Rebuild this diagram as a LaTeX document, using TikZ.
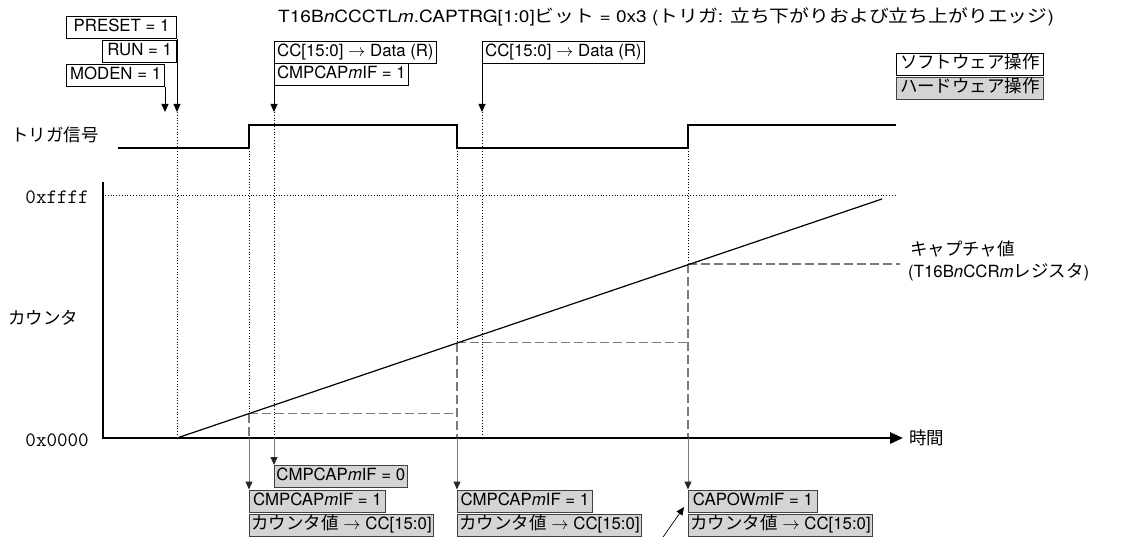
\documentclass[tikz,border=0pt]{standalone}
\usepackage{graphicx}
\usepackage{fontspec}
\setmainfont{TeX Gyre Heros}
\newfontfamily\jpfont{Noto Sans CJK JP}[Scale=1.04]
\newcommand\J[1]{{\jpfont #1}}
\usetikzlibrary{arrows.meta}
\definecolor{hwgray}{HTML}{D4D4D4}
\definecolor{lngray}{HTML}{7A7A7A}
\begin{document}
\begin{tikzpicture}[x=1pt,y=-1pt,
  font=\fontsize{16.8}{20}\selectfont,
  box/.style={draw=black, line width=0.8pt, inner xsep=2pt, inner ysep=0pt,
    text height=13pt, text depth=4pt, minimum height=22pt},
  swbox/.style={box, fill=white},
  hwbox/.style={box, fill=hwgray, draw=black!75},
  tip/.style={-{Triangle[width=7pt,length=8pt]}},
  swarr/.style={tip, line width=0.8pt, black},
  hwarr/.style={line width=1pt, draw=lngray, arrows={-{Triangle[width=7pt,length=8pt,color=black!85]}}},
  guide/.style={black, line width=0.8pt, dotted},
  capline/.style={lngray, line width=1.4pt, dash pattern=on 9pt off 4pt},
  sig/.style={black, line width=1.3pt},
  axis/.style={black, line width=2.6pt},
  hexlbl/.style={anchor=east, inner sep=0pt, font=\fontsize{20.5}{22}\ttfamily}
]
\useasboundingbox (0,0) rectangle (1131,537);

% title
\node[anchor=west, inner sep=0pt] (title) at (278,17)
  {\scalebox{1.135}[1]{T16B\textit{n}CCCTL\textit{m}.CAPTRG[1:0]\J{ビット} = 0x3 (\J{トリガ}: \J{立ち下がりおよび立ち上がりエッジ})}};

% software boxes (top)
\node[swbox, anchor=north east, minimum width=110pt] (preset) at (177,16) {PRESET = 1};
\node[swbox, anchor=north east, minimum width=74pt] (run) at (177,40) {RUN = 1};
\node[swbox, anchor=north east, minimum width=98pt] (moden) at (165,64) {MODEN = 1};
\node[swbox, anchor=north west, minimum width=162pt] (cc1) at (274,41) {CC[15:0] $\rightarrow$ Data (R)};
\node[swbox, anchor=north west, minimum width=134pt] (cmp1) at (274,63) {CMPCAP\textit{m}IF = 1};
\node[swbox, anchor=north west, minimum width=162pt] (cc2) at (482,41) {CC[15:0] $\rightarrow$ Data (R)};

% legend
\node[swbox, anchor=north west, minimum width=147pt] (lsw) at (896,53) {\J{ソフトウェア操作}};
\node[hwbox, anchor=north west, minimum width=147pt] (lhw) at (896,77) {\J{ハードウェア操作}};

% arrow tips of software operations
\coordinate (tM) at (165,112);
\coordinate (tP) at (177,112);
\coordinate (tC1) at (274,112);
\coordinate (tC2) at (482,112);
\draw[swarr] (moden.south east) -- (tM);
\draw[swarr] (preset.south east) -- (tP);
\draw[swarr] (cmp1.south west) -- (tC1);
\draw[swarr] (cc2.south west) -- (tC2);

% axis points
\coordinate (o) at (103,438);
\coordinate (ytop) at (103,182);
\coordinate (xend) at (903,438);
\coordinate (aP) at (177,438);
\coordinate (aC1) at (274,438);
\coordinate (aC2) at (482,438);
\coordinate (a1) at (249,438);
\coordinate (a2) at (457,438);
\coordinate (a3) at (688,438);

% dotted guides
\draw[guide] (tP) -- (aP);
\draw[guide] (tC1) -- (aC1);
\draw[guide] (tC2) -- (aC2);
\coordinate (e1) at (249,148);
\coordinate (e2) at (457,148);
\coordinate (e3) at (688,148);
\coordinate (c1) at (249,413.5);
\coordinate (c2) at (457,342.5);
\coordinate (c3) at (688,264);
\draw[guide] (e1) -- (c1);
\draw[guide] (e2) -- (c2);
\draw[guide] (e3) -- (c3);
\coordinate (fl) at (105,195);
\coordinate (fr) at (896,195);
\draw[guide] (fl) -- (fr);

% captured values
\coordinate (c2a) at (457,413.5);
\coordinate (c3a) at (688,342.5);
\coordinate (c4) at (900,264);
\draw[capline] (c1) -- (a1);
\draw[capline] (c1) -- (c2a);
\draw[capline] (c2) -- (a2);
\draw[capline] (c2) -- (c3a);
\draw[capline] (c3) -- (a3);
\draw[capline] (c3) -- (c4);

% trigger signal
\coordinate (s0) at (118,148);
\coordinate (s9) at (896,125);
\draw[sig] (s0) -- (e1) -- (249,125) -- (457,125) -- (e2) -- (e3) -- (688,125) -- (s9);

% counter ramp
\coordinate (rend) at (882,199);
\draw[black, line width=1.2pt] (aP) -- (rend);

% axes
\draw[axis, -{Triangle[width=11pt,length=13pt]}] (ytop) -- (o) -- (xend);

% labels
\node[anchor=west, inner sep=0pt] (ltrig) at (11,135) {\J{トリガ信号}};
\node[anchor=west, inner sep=0pt] (lcnt) at (8,318) {\J{カウンタ}};
\node[anchor=west, inner sep=0pt] (ltime) at (909,438) {\J{時間}};
\node[hexlbl] (lff) at (89,197) {0xffff};
\node[hexlbl] (l00) at (89,440) {0x0000};
\node[anchor=west, inner sep=0pt] (lcap1) at (910,249) {\J{キャプチャ値}};
\node[anchor=west, inner sep=0pt] (lcap2) at (908,272) {(T16B\textit{n}CCR\textit{m}\J{レジスタ})};

% hardware boxes (bottom)
\node[hwbox, anchor=north west, minimum width=132pt] (h0) at (274,465) {CMPCAP\textit{m}IF = 0};
\node[hwbox, anchor=north west, minimum width=136pt] (h1a) at (249,489.5) {CMPCAP\textit{m}IF = 1};
\node[hwbox, anchor=north west, minimum width=183pt] (h1b) at (249,514) {\J{カウンタ値} $\rightarrow$ CC[15:0]};
\node[hwbox, anchor=north west, minimum width=135pt] (h2a) at (457,489.5) {CMPCAP\textit{m}IF = 1};
\node[hwbox, anchor=north west, minimum width=183pt] (h2b) at (457,514) {\J{カウンタ値} $\rightarrow$ CC[15:0]};
\node[hwbox, anchor=north west, minimum width=129pt] (h3a) at (688,489.5) {CAPOW\textit{m}IF = 1};
\node[hwbox, anchor=north west, minimum width=184pt] (h3b) at (688,514) {\J{カウンタ値} $\rightarrow$ CC[15:0]};

\draw[hwarr] (a1) -- (h1a.north west);
\draw[hwarr] (aC1) -- (h0.north west);
\draw[hwarr] (a2) -- (h2a.north west);
\draw[hwarr] (a3) -- (h3a.north west);

% pointer to CAPOW box
\coordinate (pt0) at (661,540);
\coordinate (pt1) at (684,507);
\draw[swarr, line width=0.7pt] (pt0) -- (pt1);
\end{tikzpicture}
\end{document}
